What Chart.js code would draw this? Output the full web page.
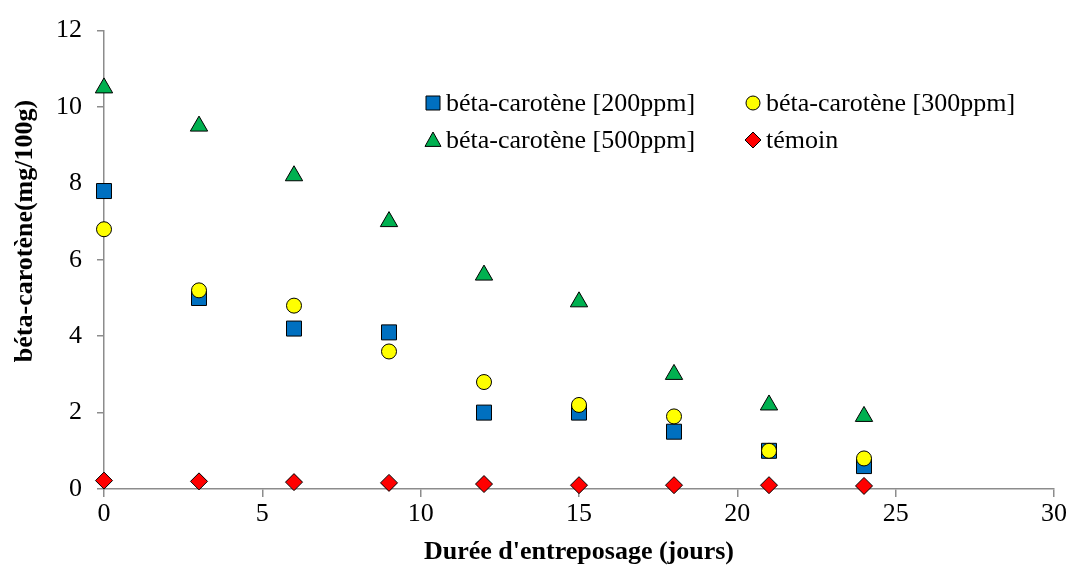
<!DOCTYPE html>
<html>
<head>
<meta charset="utf-8">
<script src="https://cdn.jsdelivr.net/npm/chart.js@4"></script>
<style>
  html, body { margin: 0; padding: 0; background: #fff; }
  #wrap { width: 1070px; height: 569px; }
</style>
</head>
<body>
<div id="wrap"><canvas id="betaChart" width="1070" height="569"></canvas></div>
<script>
// --- data ---
const days = [0, 3, 6, 9, 12, 15, 18, 21, 24];
const beta200 = [7.8, 5.0, 4.2, 4.1, 2.0, 2.0, 1.5, 1.0, 0.6];
const beta300 = [6.8, 5.2, 4.8, 3.6, 2.8, 2.2, 1.9, 1.0, 0.8];
const beta500 = [10.5, 9.5, 8.2, 7.0, 5.6, 4.9, 3.0, 2.2, 1.9];
const temoin = [0.22, 0.2, 0.18, 0.16, 0.13, 0.1, 0.1, 0.1, 0.08];

const seriesLabels = [
  'béta-carotène [200ppm]',
  'béta-carotène [300ppm]',
  'béta-carotène [500ppm]',
  'témoin'
];
const xTitle = "Durée d'entreposage (jours)";
const yTitle = 'béta-carotène(mg/100g)';

const AXIS_GREY = '#8c8c8c';
const FONT = "'Liberation Serif', 'Times New Roman', serif";

const toPoints = (vals) => vals.map((v, i) => ({ x: days[i], y: v }));

// draw a legend marker by hand (same shapes as the point styles)
function drawMarker(ctx, style, x, y, r, fill) {
  ctx.save();
  ctx.fillStyle = fill;
  ctx.strokeStyle = '#000';
  ctx.lineWidth = 1;
  ctx.beginPath();
  if (style === 'rect') {
    ctx.rect(x - r, y - r, 2 * r, 2 * r);
  } else if (style === 'circle') {
    ctx.arc(x, y, r, 0, Math.PI * 2);
  } else if (style === 'triangle') {
    ctx.moveTo(x, y - r);
    ctx.lineTo(x + r, y + r * 0.8);
    ctx.lineTo(x - r, y + r * 0.8);
  } else if (style === 'rectRot') {
    ctx.moveTo(x, y - r);
    ctx.lineTo(x + r, y);
    ctx.lineTo(x, y + r);
    ctx.lineTo(x - r, y);
  }
  ctx.closePath();
  ctx.fill();
  ctx.stroke();
  ctx.restore();
}

// legend inside the plot (two columns) + the y title, which sits a bit above centre
const insideLegend = {
  id: 'insideLegend',
  afterDraw(chart) {
    const ctx = chart.ctx;
    const cols = [433, 753];
    const rows = [103, 140];
    const sizes = { rect: 7, circle: 7, triangle: 8, rectRot: 8 };
    ctx.save();
    ctx.font = '26px ' + FONT;
    ctx.fillStyle = '#000';
    ctx.textBaseline = 'middle';
    chart.data.datasets.forEach((ds, i) => {
      const cx = cols[i % 2];
      const cy = rows[Math.floor(i / 2)];
      drawMarker(ctx, ds.pointStyle, cx, cy, sizes[ds.pointStyle], ds.backgroundColor);
      ctx.fillText(ds.label, cx + 13, cy + 1);
    });

    // y axis title
    ctx.translate(25, 231);
    ctx.rotate(-Math.PI / 2);
    ctx.font = 'bold 26px ' + FONT;
    ctx.textAlign = 'center';
    ctx.fillText(yTitle, 0, 0);
    ctx.restore();
  }
};

const ctx = document.getElementById('betaChart').getContext('2d');
new Chart(ctx, {
  type: 'scatter',
  data: {
    datasets: [
      {
        label: seriesLabels[0],
        data: toPoints(beta200),
        pointStyle: 'rect',
        pointRadius: 10.6,
        backgroundColor: '#0070C0',
        borderColor: '#000',
        borderWidth: 1,
        clip: false,
        order: 2
      },
      {
        label: seriesLabels[1],
        data: toPoints(beta300),
        pointStyle: 'circle',
        pointRadius: 7.5,
        backgroundColor: '#FFFF00',
        borderColor: '#000',
        borderWidth: 1,
        clip: false,
        order: 1
      },
      {
        label: seriesLabels[2],
        data: toPoints(beta500),
        pointStyle: 'triangle',
        pointRadius: 10,
        backgroundColor: '#00B050',
        borderColor: '#000',
        borderWidth: 1,
        clip: false,
        order: 1
      },
      {
        label: seriesLabels[3],
        data: toPoints(temoin),
        pointStyle: 'rectRot',
        pointRadius: 8.5,
        backgroundColor: '#FF0000',
        borderColor: '#000',
        borderWidth: 1,
        clip: false,
        order: 1
      }
    ]
  },
  options: {
    responsive: false,
    animation: false,
    layout: { padding: { left: 0, top: 27, right: 16, bottom: 0 } },
    plugins: {
      legend: { display: false },
      tooltip: { enabled: false }
    },
    scales: {
      x: {
        type: 'linear',
        min: 0,
        max: 30,
        ticks: {
          stepSize: 5,
          padding: 2,
          color: '#000',
          font: { family: FONT, size: 26 }
        },
        grid: {
          drawOnChartArea: false,
          drawTicks: true,
          tickLength: 8,
          color: AXIS_GREY,
          lineWidth: 1.5
        },
        border: { color: AXIS_GREY, width: 1.5 },
        title: {
          display: true,
          text: xTitle,
          color: '#000',
          font: { family: FONT, size: 26, weight: 'bold' },
          padding: { top: 0, bottom: 1 }
        },
        afterFit: (scale) => { scale.height = 80; }
      },
      y: {
        min: 0,
        max: 12,
        ticks: {
          stepSize: 2,
          padding: 15,
          color: '#000',
          font: { family: FONT, size: 26 }
        },
        grid: {
          drawOnChartArea: false,
          drawTicks: true,
          tickLength: 7,
          color: AXIS_GREY,
          lineWidth: 1.5
        },
        border: { color: AXIS_GREY, width: 1.5 },
        title: { display: false },
        afterFit: (scale) => { scale.width = 104; }
      }
    }
  },
  plugins: [insideLegend]
});
</script>
</body>
</html>
